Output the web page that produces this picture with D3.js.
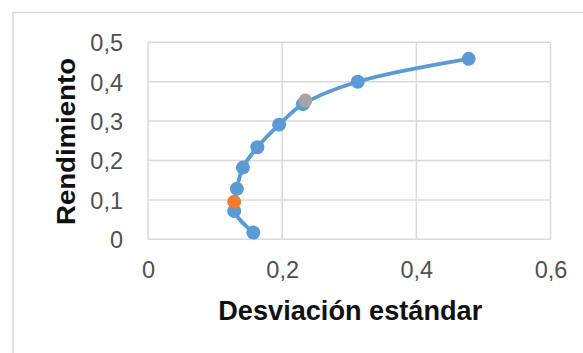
<!DOCTYPE html>
<html>
<head>
<meta charset="utf-8">
<script src="https://cdn.jsdelivr.net/npm/d3@7/dist/d3.min.js"></script>
<style>
  html, body { margin: 0; padding: 0; background: #fff; }
  svg { display: block; }
</style>
</head>
<body>
<svg id="chart" width="583" height="353"></svg>
<script>
// Data
const frontierSD = [0.157, 0.1285, 0.1325, 0.1415, 0.163, 0.1955, 0.231, 0.3127, 0.478];
const frontierRet = [0.017, 0.072, 0.128, 0.182, 0.2335, 0.291, 0.343, 0.400, 0.458];
const minVarSD = [0.1285];
const minVarRet = [0.095];
const tangentSD = [0.2345];
const tangentRet = [0.352];
const xTicks = [0, 0.2, 0.4, 0.6];
const yTicks = [0, 0.1, 0.2, 0.3, 0.4, 0.5];
const xTitle = "Desviación estándar";
const yTitle = "Rendimiento";

const svg = d3.select("#chart");
const W = 583, H = 353;
const plot = { left: 148, right: 550.5, top: 42.3, bottom: 239.3 };
const FONT = "'Liberation Sans', Arial, Helvetica, sans-serif";

const x = d3.scaleLinear().domain([0, 0.6]).range([plot.left, plot.right]);
const y = d3.scaleLinear().domain([0, 0.5]).range([plot.bottom, plot.top]);
const fmt = v => (v === 0 ? "0" : d3.format(".1f")(v).replace(".", ","));

// Chart border (outer frame)
svg.append("rect")
  .attr("x", 13).attr("y", 12.5)
  .attr("width", W + 10).attr("height", H + 10)
  .attr("fill", "none").attr("stroke", "#d9d9d9").attr("stroke-width", 1.5);

// Gridlines
const grid = svg.append("g");
grid.selectAll("line.h").data(yTicks).join("line")
  .attr("x1", plot.left).attr("x2", plot.right)
  .attr("y1", d => y(d)).attr("y2", d => y(d))
  .attr("stroke", "#d9d9d9").attr("stroke-width", 1.5);
grid.selectAll("line.v").data(xTicks).join("line")
  .attr("y1", plot.top).attr("y2", plot.bottom)
  .attr("x1", d => x(d)).attr("x2", d => x(d))
  .attr("stroke", "#d9d9d9").attr("stroke-width", 1.5);

// Axes (labels only, via d3 axes)
const xAxis = d3.axisBottom(x).tickValues(xTicks).tickFormat(fmt).tickSize(0).tickPadding(0);
const gx = svg.append("g").attr("transform", `translate(0,${plot.bottom})`).call(xAxis);
gx.select(".domain").remove();
gx.selectAll("text")
  .attr("dy", null).attr("y", 39)
  .attr("font-family", FONT)
  .attr("font-size", 23.5).attr("fill", "#505050");

const yAxis = d3.axisLeft(y).tickValues(yTicks).tickFormat(fmt).tickSize(0).tickPadding(0);
const gy = svg.append("g").attr("transform", `translate(${plot.left},0)`).call(yAxis);
gy.select(".domain").remove();
gy.selectAll("text")
  .attr("x", -25).attr("dy", "0.36em")
  .attr("font-family", FONT)
  .attr("font-size", 23.5).attr("fill", "#505050");

// Axis titles
svg.append("text")
  .attr("x", (plot.left + plot.right) / 2 + 1).attr("y", 319.5)
  .attr("text-anchor", "middle")
  .attr("font-family", FONT)
  .attr("font-weight", "bold").attr("font-size", 27).attr("fill", "#111")
  .attr("textLength", 264).attr("lengthAdjust", "spacingAndGlyphs")
  .text(xTitle);

svg.append("text")
  .attr("transform", `translate(75,${(plot.top + plot.bottom) / 2 + 0.7}) rotate(-90)`)
  .attr("text-anchor", "middle")
  .attr("font-family", FONT)
  .attr("font-weight", "bold").attr("font-size", 26).attr("fill", "#111")
  .attr("textLength", 167).attr("lengthAdjust", "spacingAndGlyphs")
  .text(yTitle);

// Frontier line
const pts = frontierSD.map((s, i) => [s, frontierRet[i]]);
const line = d3.line().x(d => x(d[0])).y(d => y(d[1])).curve(d3.curveCatmullRom.alpha(0.5));
svg.append("path").datum(pts)
  .attr("d", line)
  .attr("fill", "none").attr("stroke", "#5B9BD5").attr("stroke-width", 3.8)
  .attr("stroke-linejoin", "round").attr("stroke-linecap", "round");

svg.append("g").selectAll("circle").data(pts).join("circle")
  .attr("cx", d => x(d[0])).attr("cy", d => y(d[1])).attr("r", 7)
  .attr("fill", "#5B9BD5");

// Minimum variance point (orange)
svg.append("g").selectAll("circle").data(minVarSD.map((s, i) => [s, minVarRet[i]])).join("circle")
  .attr("cx", d => x(d[0])).attr("cy", d => y(d[1])).attr("r", 7)
  .attr("fill", "#ED7D31");

// Tangent point (gray)
svg.append("g").selectAll("circle").data(tangentSD.map((s, i) => [s, tangentRet[i]])).join("circle")
  .attr("cx", d => x(d[0])).attr("cy", d => y(d[1])).attr("r", 7)
  .attr("fill", "#A5A5A5");
</script>
</body>
</html>
